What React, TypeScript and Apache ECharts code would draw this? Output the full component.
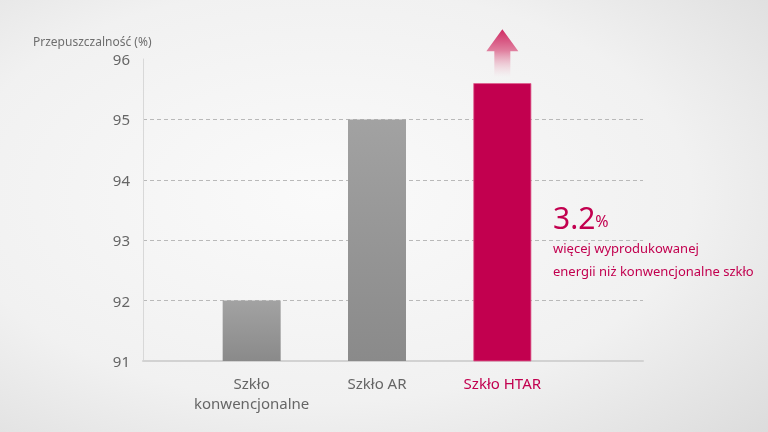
import React, { useEffect, useRef } from 'react'
import * as echarts from 'echarts'

const categories = ['Szkło\nkonwencjonalne', 'Szkło AR', 'Szkło HTAR']
const values = [92.0, 95.0, 95.6]
const yTicks = [91, 92, 93, 94, 95, 96]
const axisTitle = 'Przepuszczalność (%)'
const gainValue = '3.2'
const gainLines = ['więcej wyprodukowanej', 'energii niż konwencjonalne szkło']

const CRIMSON = '#c2004f'
const FONT = "'Noto Sans', sans-serif"

const grayBar = {
  type: 'linear', x: 0, y: 0, x2: 0, y2: 1,
  colorStops: [
    { offset: 0, color: '#a2a2a2' },
    { offset: 1, color: '#8a8a8a' },
  ],
}

const App = function () {
  const domRef = useRef<HTMLDivElement>(null)

  useEffect(() => {
    const chart = echarts.init(domRef.current!, null, { renderer: 'svg' })
    const option: any = {
      animation: false,
      backgroundColor: {
        type: 'radial', x: 0.42, y: 0.45, r: 0.8,
        colorStops: [
          { offset: 0, color: '#fafafa' },
          { offset: 0.6, color: '#f1f1f1' },
          { offset: 1, color: '#dcdcdc' },
        ],
      },
      grid: [
        { left: 143, right: 125, top: 59, bottom: 71 },
        { left: 189, right: 203, top: 59, bottom: 71 },
      ],
      xAxis: [
        {
          gridIndex: 0, type: 'value', min: 0, max: 1,
          axisLine: { show: true, lineStyle: { color: '#d2d2d2', width: 2 } },
          axisTick: { show: false }, axisLabel: { show: false }, splitLine: { show: false },
        },
        {
          gridIndex: 1, type: 'category', data: categories,
          axisLine: { show: false }, axisTick: { show: false },
          axisLabel: {
            interval: 0, margin: 12, fontSize: 15, lineHeight: 20, fontFamily: FONT, color: '#666',
            formatter: (v: string, i: number) => (i === 2 ? `{h|${v}}` : v),
            rich: { h: { color: CRIMSON, fontSize: 15, lineHeight: 20, fontFamily: FONT } },
          },
        },
      ],
      yAxis: [
        {
          gridIndex: 0, type: 'value', min: yTicks[0], max: yTicks[yTicks.length - 1], interval: 1,
          axisLine: { show: true, lineStyle: { color: '#d8d8d8', width: 1 } },
          axisTick: { show: false },
          axisLabel: { margin: 13, fontSize: 15, color: '#666', fontFamily: FONT },
          splitLine: {
            show: true,
            lineStyle: {
              type: [4, 3],
              color: ['rgba(0,0,0,0)', '#b9b9b9', '#b9b9b9', '#b9b9b9', '#b9b9b9', 'rgba(0,0,0,0)'],
            },
          },
        },
        {
          gridIndex: 1, type: 'value', min: yTicks[0], max: yTicks[yTicks.length - 1],
          show: false, splitLine: { show: false },
        },
      ],
      series: [
        {
          type: 'bar', xAxisIndex: 1, yAxisIndex: 1, barWidth: 58,
          data: values.map((v, i) => ({
            value: v,
            itemStyle: i === 2
              ? { color: CRIMSON, borderColor: '#e0608f', borderWidth: 0.8 }
              : { color: grayBar },
          })),
        },
      ],
    }
    chart.setOption(option)

    const [ax, ay] = chart.convertToPixel({ xAxisIndex: 1, yAxisIndex: 1 }, [2, values[2]])
    const top = ay - 54
    chart.setOption({
      graphic: [
        {
          type: 'text', left: 33, top: 35,
          style: { text: axisTitle, fontSize: 12, fill: '#6e6e6e', fontFamily: FONT },
        },
        {
          type: 'polygon',
          shape: {
            points: [
              [ax, top], [ax + 16, top + 22], [ax + 8, top + 22], [ax + 8, top + 48],
              [ax - 8, top + 48], [ax - 8, top + 22], [ax - 16, top + 22],
            ],
          },
          style: {
            fill: {
              type: 'linear', x: 0, y: 0, x2: 0, y2: 1,
              colorStops: [
                { offset: 0, color: '#cf2a63' },
                { offset: 0.45, color: '#e0809f' },
                { offset: 1, color: 'rgba(240,200,212,0)' },
              ],
            },
          },
        },
        {
          type: 'text', left: 553, top: 202,
          style: {
            text: `{a|${gainValue}}{b|%}`,
            rich: {
              a: { fontSize: 30, fill: CRIMSON, fontFamily: FONT },
              b: { fontSize: 16, fill: CRIMSON, fontFamily: FONT, padding: [8, 0, 0, 0] },
            },
          },
        },
        {
          type: 'text', left: 553, top: 241,
          style: { text: gainLines[0], fontSize: 13, fill: CRIMSON, fontFamily: FONT },
        },
        {
          type: 'text', left: 553, top: 264,
          style: { text: gainLines[1], fontSize: 13, fill: CRIMSON, fontFamily: FONT },
        },
      ],
    })

    return () => {
      chart.dispose()
    }
  }, [])

  return (
    <div
      ref={domRef}
      style={{ position: 'fixed', left: 0, top: 0, width: 768, height: 432 }}
    />
  )
}

export default App
